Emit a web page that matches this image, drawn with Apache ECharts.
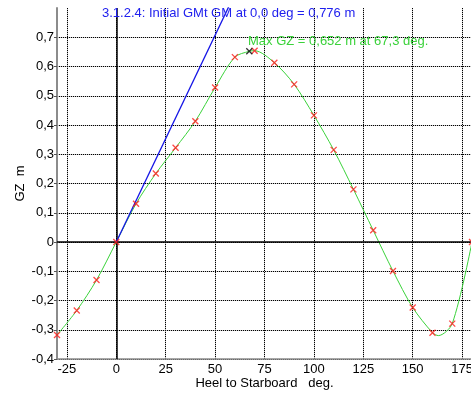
<!DOCTYPE html>
<html>
<head>
<meta charset="utf-8">
<script src="https://cdn.jsdelivr.net/npm/echarts@6/dist/echarts.min.js"></script>
<style>
  html, body { margin: 0; padding: 0; background: #fff; }
  #chart { width: 471px; height: 394px; }
</style>
</head>
<body>
<div id="chart"></div>
<script>
// heel angles where GZ was computed (red crosses)
const heelDeg = [-30, -20, -10, 0, 10, 20, 30, 40, 50, 60, 70, 80, 90, 100, 110, 120, 130, 140, 150, 160, 170, 180]
const gzValues = [-0.318, -0.234, -0.130, 0, 0.131, 0.234, 0.322, 0.413, 0.528, 0.632, 0.654, 0.613, 0.539, 0.433, 0.315, 0.180, 0.040, -0.099, -0.224, -0.310, -0.279, 0]
// extra points of the curve
const maxPoint = [67.3, 0.652]
const minPoint = [163, -0.320]
// initial GM tangent
const gmLine = [[0, 0], [57.3, 0.81]]
const xTicks = [-25, 0, 25, 50, 75, 100, 125, 150, 175]
const yTicks = [-0.4, -0.3, -0.2, -0.1, 0, 0.1, 0.2, 0.3, 0.4, 0.5, 0.6, 0.7]

const gmText = '3.1.2.4: Initial GMt GM at 0,0 deg = 0,776 m'
const maxText = 'Max GZ = 0,652 m at 67,3 deg.'

const FONT = '"Liberation Sans", Arial, sans-serif'
const CROSS = 'path://M0,0L10,10M10,0L0,10'

const samples = heelDeg.map((x, i) => [x, gzValues[i]])
const curve = samples.concat([maxPoint, minPoint]).sort((a, b) => a[0] - b[0])

const fmtY = v => {
  const r = Math.round(v * 10) / 10
  return r === 0 ? '0' : r.toFixed(1).replace('.', ',')
}

const option = {
  animation: false,
  backgroundColor: '#fff',
  textStyle: { fontFamily: FONT },
  grid: { left: 57, right: -1, top: 8, bottom: 35, outerBoundsMode: 'none', containLabel: false },
  xAxis: [
    {
      type: 'value', min: -30, max: 180, z: 3,
      name: 'Heel to Starboard   deg.', nameLocation: 'middle', nameGap: 18, nameMoveOverlap: false,
      nameTextStyle: { fontFamily: FONT, fontSize: 13, color: '#000', verticalAlign: 'top' },
      axisLine: { show: true, onZero: false, lineStyle: { color: '#8c8c8c', width: 1.5 } },
      axisTick: { show: false, customValues: xTicks },
      axisLabel: { customValues: xTicks, fontFamily: FONT, fontSize: 13, color: '#000', margin: 4 },
      splitLine: { show: true, lineStyle: { color: '#000', type: [1, 1], width: 1 } }
    },
    {
      type: 'value', min: -30, max: 180, z: 1,
      axisLine: { show: false }, axisTick: { show: false, customValues: xTicks },
      axisLabel: { show: false, customValues: xTicks },
      splitLine: { show: true, lineStyle: { color: '#c4c4c4', width: 1 } }
    }
  ],
  yAxis: [
    {
      type: 'value', min: -0.4, max: 0.8, z: 3,
      name: 'GZ  m', nameLocation: 'middle', nameGap: 30, nameRotate: 90, nameMoveOverlap: false,
      nameTextStyle: { fontFamily: FONT, fontSize: 13, color: '#000' },
      axisLine: { show: true, onZero: false, lineStyle: { color: '#8c8c8c', width: 2 } },
      axisTick: { show: true, length: 3, customValues: yTicks, lineStyle: { color: '#555' } },
      axisLabel: { customValues: yTicks, formatter: fmtY, fontFamily: FONT, fontSize: 13, color: '#000', margin: 3 },
      splitLine: { show: true, lineStyle: { color: '#000', type: [1, 1], width: 1 } }
    },
    {
      type: 'value', min: -0.4, max: 0.8, z: 1,
      axisLine: { show: false }, axisTick: { show: false, customValues: yTicks },
      axisLabel: { show: false, customValues: yTicks },
      splitLine: { show: true, lineStyle: { color: '#c4c4c4', width: 1 } }
    }
  ],
  series: [
    {
      type: 'line', name: 'GZ', data: curve, smooth: 0.3,
      showSymbol: false, z: 4,
      lineStyle: { color: '#3ad23a', width: 1 },
      markLine: {
        silent: true, symbol: 'none', animation: false,
        label: { show: false },
        lineStyle: { color: '#000', type: 'solid', width: 1.5 },
        data: [{ xAxis: 0 }, { yAxis: 0 }]
      }
    },
    {
      type: 'line', name: 'GM', data: gmLine, showSymbol: false, z: 5,
      lineStyle: { color: '#1414e6', width: 1.3 }
    },
    {
      type: 'scatter', name: 'points', data: samples, symbol: CROSS, symbolSize: 6, z: 6,
      itemStyle: { color: 'none', borderColor: '#ff1a1a', borderWidth: 1.3 }
    },
    {
      type: 'scatter', name: 'max', data: [maxPoint], symbol: CROSS, symbolSize: 6, z: 6,
      itemStyle: { color: 'none', borderColor: '#000', borderWidth: 1.3 }
    }
  ],
  graphic: [
    {
      type: 'text', left: 102, top: 7, z: 10,
      style: { text: gmText, fill: '#2020ee', fontFamily: FONT, fontSize: 13 }
    },
    {
      type: 'text', left: 248, top: 35, z: 10,
      style: { text: maxText, fill: '#3ad23a', fontFamily: FONT, fontSize: 13 }
    }
  ]
}

const chart = echarts.init(document.getElementById('chart'), null, { renderer: 'canvas' })
chart.setOption(option)
</script>
</body>
</html>
